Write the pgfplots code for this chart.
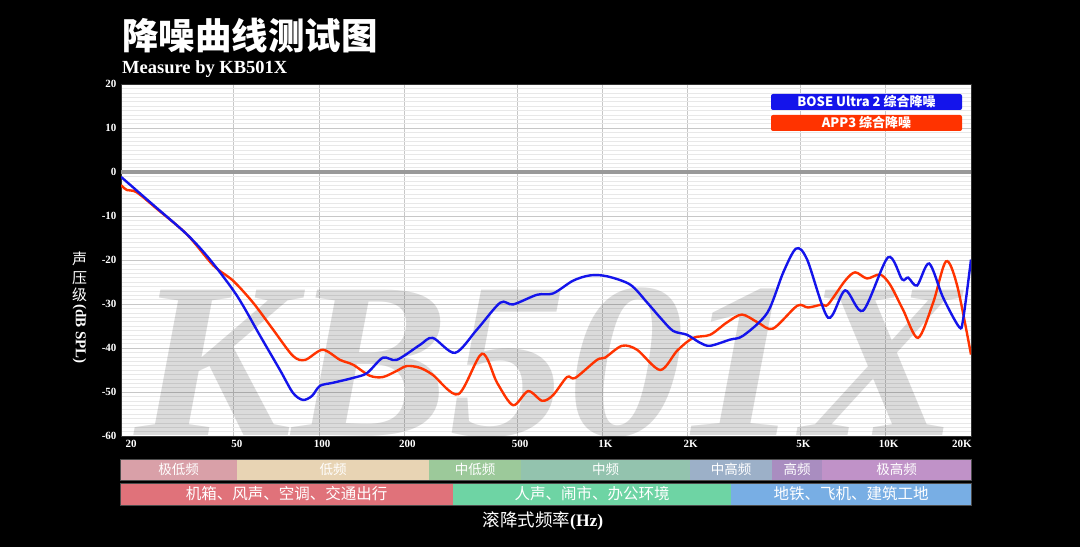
\documentclass[border=0pt]{standalone}
\usepackage{pgfplots}
\pgfplotsset{compat=1.18}
\usepackage{fontspec}
\setmainfont{Liberation Serif}
\newfontfamily\cjk{Noto Sans CJK SC}
\definecolor{bose}{RGB}{20,20,235}
\definecolor{app}{RGB}{255,51,0}
\definecolor{b1}{RGB}{217,160,168}
\definecolor{b2}{RGB}{232,212,180}
\definecolor{b3}{RGB}{156,201,154}
\definecolor{b4}{RGB}{147,195,174}
\definecolor{b5}{RGB}{156,176,200}
\definecolor{b6}{RGB}{169,141,192}
\definecolor{b7}{RGB}{192,146,200}
\definecolor{c1}{RGB}{224,114,122}
\definecolor{c2}{RGB}{110,212,164}
\definecolor{c3}{RGB}{120,174,228}
\begin{document}
\begin{tikzpicture}[x=1pt,y=1pt]
\fill[black] (0pt,0pt) rectangle (1080pt,547pt);
\useasboundingbox (0pt,0pt) rectangle (1080pt,547pt);
% title
\node[anchor=west,text=white,inner sep=0] at (122pt,511pt) {\cjk\bfseries\fontsize{36.5}{36.5}\selectfont 降噪曲线测试图};
\node[anchor=west,text=white,inner sep=0] at (122pt,478pt) {\bfseries\fontsize{18.5}{18.5}\selectfont Measure by KB501X};
\begin{axis}[
  at={(121pt,111pt)}, anchor=south west,
  width=850pt, height=352pt, scale only axis,
  xmode=log, xmin=20, xmax=20000, ymin=-60, ymax=20,
  axis background/.style={fill=white},
  xtick={20,50,100,200,500,1000,2000,5000,10000,20000},
  xticklabels={\hspace*{14pt}20,50,100,200,500,1K,2K,5K,10K,20K\hspace*{24pt}},
  ytick={-60,-50,-40,-30,-20,-10,0,10,20},
  yticklabels={-60,-50,-40,-30,-20,-10,0,10,20},
  minor ytick={-59,-58,...,19},
  grid=both,
  major grid style={color=black!22,line width=0.6pt},
  minor grid style={color=black!9,line width=0.5pt},
  major tick length=0pt, minor tick length=0pt,
  tick label style={text=white,font=\bfseries\fontsize{11}{11}\selectfont},
  xticklabel style={yshift=-1pt,xshift=3pt},
  yticklabel style={xshift=-1pt},
  axis line style={black!80,line width=1pt},
  clip=true,
]
\node[anchor=south,text=black,opacity=0.14,inner sep=0,xscale=1.06] at (axis cs:640,-60.5) {\bfseries\itshape\fontsize{222}{222}\selectfont KB501X};
\addplot[black!40,line width=4.5pt,forget plot] coordinates {(20,0) (20000,0)};
\addplot[app,line width=2.4pt,smooth,tension=0.5] coordinates {
(20,-3) (21,-4.1) (22.7,-4.6) (26.8,-8.4) (34.2,-14.2) (42.3,-21.2) (49.7,-24.7) (58.5,-29.7) (68.8,-35.8) (80.9,-41.8) (89.3,-42.7) (103,-40.4) (118.6,-42.7) (131.8,-43.8) (151,-46.3) (168,-46.6) (188,-45.2) (204,-44.1) (227,-44.5) (252,-46.1) (310,-50.5) (376,-41.3) (425,-47.9) (484,-53) (547,-49.8) (613,-52) (670,-50.7) (750,-46.6) (802,-46.8) (957,-42.7) (1021,-42.2) (1173,-39.5) (1325,-40.4) (1600,-45) (1837,-40.6) (2090,-37.7) (2400,-37) (2750,-34.2) (3110,-32.4) (3540,-34.2) (4000,-35.6) (4870,-30.4) (5320,-30.8) (5960,-30.1) (6260,-30.1) (7190,-24.7) (7800,-22.8) (8590,-24.2) (9550,-23.3) (10360,-25.6) (11510,-31.3) (13000,-37.7) (14700,-29.7) (16330,-20.3) (17870,-25.8) (20000,-41.5)
};
\addplot[bose,line width=2.4pt,smooth,tension=0.5] coordinates {
(20,-1.1) (26,-7.5) (34.2,-14.2) (41.2,-19.9) (51.3,-28.1) (61.9,-37.2) (72.8,-45) (80.9,-50.2) (87.7,-51.8) (94.4,-50.9) (100.7,-48.6) (112,-47.9) (131.8,-46.8) (147.7,-45.7) (168,-42.2) (188,-42.7) (227,-39.3) (252,-37.7) (302,-41.1) (361,-35.8) (436,-29.7) (484,-30.1) (588,-27.9) (670,-27.6) (788,-24.7) (904,-23.5) (1038,-23.7) (1254,-25.6) (1440,-29.7) (1600,-33.1) (1775,-36.1) (1990,-37) (2210,-38.8) (2400,-39.5) (2820,-38.1) (3140,-37.2) (3820,-32) (4350,-22.8) (4830,-17.4) (5280,-19.9) (6260,-33.1) (7190,-26.9) (8320,-31.5) (10190,-19.4) (11420,-24.4) (12000,-24) (12900,-25.8) (14230,-20.8) (15930,-28.5) (18150,-35.2) (18750,-33.6) (20000,-19.9)
};
\end{axis}
% legend boxes
\fill[bose,rounded corners=2pt] (771pt,437pt) rectangle (962pt,453pt);
\node[text=white,inner sep=0] at (866.5pt,445pt) {\cjk\bfseries\fontsize{13}{13}\selectfont BOSE Ultra 2 综合降噪};
\fill[app,rounded corners=2pt] (771pt,416pt) rectangle (962pt,432pt);
\node[text=white,inner sep=0] at (866.5pt,424pt) {\cjk\bfseries\fontsize{13}{13}\selectfont APP3 综合降噪};
% y label
\begin{scope}[text=white]
\node at (79.5pt,288pt) {\cjk\fontsize{15}{15}\selectfont 声};
\node at (79.5pt,269pt) {\cjk\fontsize{15}{15}\selectfont 压};
\node at (79.5pt,252pt) {\cjk\fontsize{15}{15}\selectfont 级};
\node[rotate=-90,anchor=west,inner sep=0] at (79.5pt,243pt) {\bfseries\fontsize{15}{15}\selectfont (dB SPL)};
\end{scope}
% bands row 1
\foreach \a/\b/\c/\t in {120/237/b1/极低频,237/429/b2/低频,429/521/b3/中低频,521/690/b4/中频,690/772/b5/中高频,772/822/b6/高频,822/971/b7/极高频}{
  \fill[\c] (\a pt,67pt) rectangle (\b pt,88pt);
  \node[text=white,inner sep=0] at ({(\a+\b)/2*1pt},77.5pt) {\cjk\fontsize{13.5}{13.5}\selectfont \t};
}
\draw[black!70,line width=0.6pt] (120pt,67pt) rectangle (971pt,88pt);
\foreach \a/\b/\c/\t in {120/453/c1/机箱、风声、空调、交通出行,453/731/c2/人声、闹市、办公环境,731/971/c3/地铁、飞机、建筑工地}{
  \fill[\c] (\a pt,42pt) rectangle (\b pt,64pt);
  \node[text=white,inner sep=0] at ({(\a+\b)/2*1pt},53pt) {\cjk\fontsize{15.5}{15.5}\selectfont \t};
}
\draw[black!70,line width=0.6pt] (120pt,42pt) rectangle (971pt,64pt);
\node[text=white] at (543pt,26pt) {\cjk\fontsize{17.5}{17.5}\selectfont 滚降式频率\rmfamily\bfseries(Hz)};
\end{tikzpicture}
\end{document}
